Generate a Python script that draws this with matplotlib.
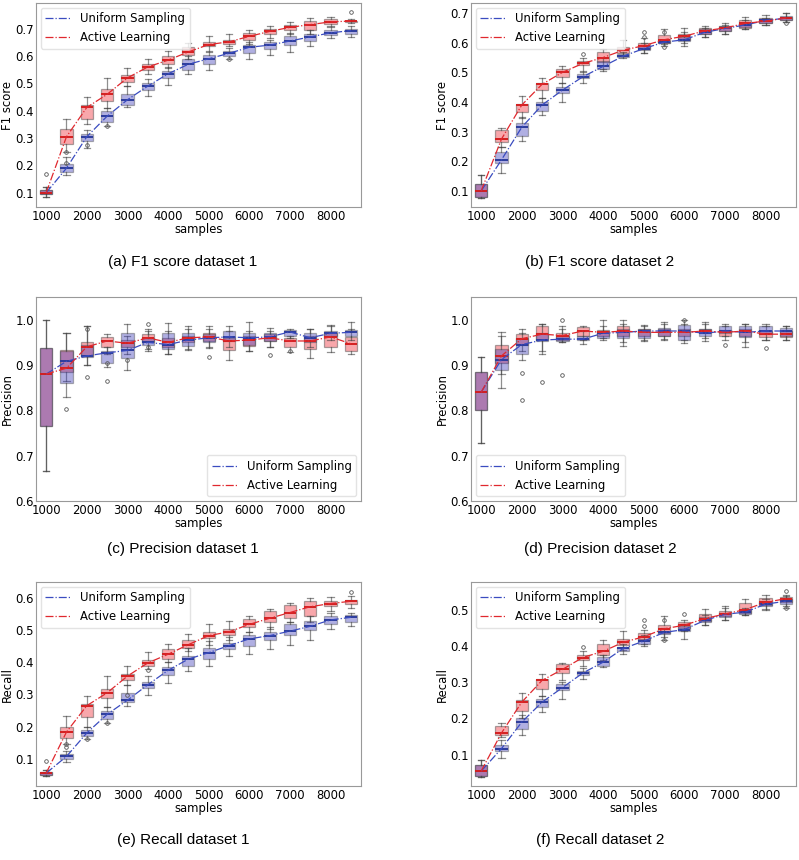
import numpy as np
import matplotlib
matplotlib.use("Agg")
import matplotlib.pyplot as plt

# sample sizes on the x axis
SAMPLES = [1000, 1500, 2000, 2500, 3000, 3500, 4000, 4500,
           5000, 5500, 6000, 6500, 7000, 7500, 8000, 8500]
XTICKS = [1000, 2000, 3000, 4000, 5000, 6000, 7000, 8000]

# box stats per sample size: [whisker low, q1, median, q3, whisker high]
F1_D1_UNIFORM = [
    [0.085, 0.095, 0.100, 0.110, 0.120], [0.165, 0.175, 0.190, 0.205, 0.230],
    [0.265, 0.290, 0.305, 0.315, 0.330], [0.345, 0.360, 0.380, 0.400, 0.410],
    [0.415, 0.420, 0.440, 0.460, 0.490], [0.455, 0.475, 0.490, 0.500, 0.515],
    [0.495, 0.520, 0.535, 0.545, 0.560], [0.535, 0.550, 0.570, 0.590, 0.600],
    [0.550, 0.570, 0.590, 0.605, 0.615], [0.590, 0.600, 0.610, 0.620, 0.630],
    [0.590, 0.610, 0.632, 0.640, 0.650], [0.605, 0.625, 0.640, 0.652, 0.660],
    [0.615, 0.640, 0.655, 0.675, 0.685], [0.635, 0.655, 0.670, 0.680, 0.695],
    [0.665, 0.678, 0.685, 0.695, 0.705], [0.670, 0.680, 0.693, 0.700, 0.710]]
F1_D1_ACTIVE = [
    [0.085, 0.095, 0.100, 0.110, 0.120], [0.250, 0.280, 0.305, 0.335, 0.370],
    [0.350, 0.370, 0.412, 0.420, 0.450], [0.410, 0.435, 0.460, 0.480, 0.520],
    [0.490, 0.505, 0.520, 0.530, 0.555], [0.535, 0.550, 0.560, 0.570, 0.590],
    [0.555, 0.570, 0.585, 0.600, 0.617], [0.590, 0.605, 0.615, 0.632, 0.648],
    [0.620, 0.635, 0.642, 0.650, 0.675], [0.635, 0.645, 0.652, 0.660, 0.680],
    [0.645, 0.660, 0.672, 0.685, 0.695], [0.665, 0.680, 0.690, 0.700, 0.710],
    [0.680, 0.695, 0.705, 0.715, 0.725], [0.680, 0.695, 0.715, 0.730, 0.740],
    [0.710, 0.718, 0.725, 0.735, 0.742], [0.720, 0.726, 0.728, 0.730, 0.735]]
F1_D1_UNIFORM_OUT = {1500: [0.25, 0.21], 2000: [0.275], 2500: [0.345], 5500: [0.59]}
F1_D1_ACTIVE_OUT = {1000: [0.17], 8500: [0.76]}

F1_D2_UNIFORM = [
    [0.075, 0.080, 0.100, 0.125, 0.155], [0.160, 0.195, 0.205, 0.230, 0.250],
    [0.270, 0.285, 0.315, 0.330, 0.350], [0.355, 0.370, 0.390, 0.400, 0.415],
    [0.400, 0.430, 0.440, 0.450, 0.465], [0.465, 0.480, 0.485, 0.495, 0.500],
    [0.505, 0.510, 0.520, 0.540, 0.550], [0.548, 0.552, 0.555, 0.562, 0.570],
    [0.565, 0.575, 0.580, 0.590, 0.600], [0.595, 0.600, 0.602, 0.605, 0.610],
    [0.590, 0.605, 0.610, 0.620, 0.635], [0.620, 0.630, 0.635, 0.645, 0.650],
    [0.630, 0.640, 0.648, 0.655, 0.660], [0.645, 0.652, 0.660, 0.668, 0.675],
    [0.660, 0.668, 0.675, 0.680, 0.685], [0.670, 0.677, 0.683, 0.690, 0.700]]
F1_D2_ACTIVE = [
    [0.075, 0.080, 0.100, 0.125, 0.155], [0.250, 0.265, 0.275, 0.305, 0.312],
    [0.345, 0.365, 0.390, 0.395, 0.420], [0.415, 0.440, 0.460, 0.465, 0.480],
    [0.465, 0.485, 0.500, 0.510, 0.520], [0.505, 0.525, 0.530, 0.540, 0.550],
    [0.510, 0.535, 0.550, 0.570, 0.580], [0.555, 0.565, 0.575, 0.585, 0.610],
    [0.565, 0.580, 0.590, 0.600, 0.615], [0.590, 0.600, 0.610, 0.625, 0.645],
    [0.600, 0.610, 0.622, 0.630, 0.650], [0.620, 0.630, 0.640, 0.648, 0.655],
    [0.630, 0.640, 0.650, 0.655, 0.665], [0.645, 0.650, 0.665, 0.675, 0.688],
    [0.660, 0.665, 0.673, 0.683, 0.695], [0.670, 0.677, 0.683, 0.688, 0.700]]
F1_D2_UNIFORM_OUT = {5500: [0.585], 8500: [0.665]}
F1_D2_ACTIVE_OUT = {3500: [0.562], 5000: [0.635, 0.62], 5500: [0.635]}

PREC_D1_UNIFORM = [
    [0.667, 0.765, 0.880, 0.937, 1.000], [0.830, 0.860, 0.908, 0.930, 0.970],
    [0.900, 0.918, 0.920, 0.945, 0.985], [0.895, 0.905, 0.927, 0.930, 0.940],
    [0.890, 0.915, 0.932, 0.970, 0.990], [0.930, 0.945, 0.950, 0.960, 0.975],
    [0.925, 0.935, 0.945, 0.970, 0.993], [0.932, 0.942, 0.955, 0.970, 0.985],
    [0.938, 0.950, 0.960, 0.968, 0.980], [0.940, 0.952, 0.962, 0.975, 0.987],
    [0.930, 0.945, 0.960, 0.970, 0.995], [0.940, 0.952, 0.962, 0.970, 0.982],
    [0.960, 0.965, 0.973, 0.978, 0.980], [0.940, 0.950, 0.960, 0.970, 0.980],
    [0.955, 0.965, 0.970, 0.975, 0.988], [0.955, 0.965, 0.972, 0.978, 0.995]]
PREC_D1_ACTIVE = [
    [0.667, 0.765, 0.880, 0.937, 1.000], [0.865, 0.885, 0.893, 0.932, 0.970],
    [0.900, 0.920, 0.940, 0.950, 0.985], [0.925, 0.940, 0.953, 0.962, 0.968],
    [0.925, 0.940, 0.948, 0.955, 0.965], [0.935, 0.950, 0.960, 0.968, 0.980],
    [0.925, 0.940, 0.950, 0.960, 0.975], [0.935, 0.950, 0.960, 0.965, 0.980],
    [0.940, 0.952, 0.962, 0.970, 0.985], [0.910, 0.933, 0.953, 0.960, 0.975],
    [0.930, 0.942, 0.955, 0.965, 0.975], [0.940, 0.952, 0.960, 0.968, 0.975],
    [0.928, 0.940, 0.953, 0.960, 0.965], [0.915, 0.935, 0.953, 0.965, 0.980],
    [0.928, 0.940, 0.962, 0.970, 0.985], [0.925, 0.930, 0.947, 0.962, 0.980]]
PREC_D1_UNIFORM_OUT = {1500: [0.803], 2000: [0.873, 0.98], 2500: [0.865, 0.905],
                       3000: [0.91], 3500: [0.99], 6500: [0.922], 7000: [0.93]}
PREC_D1_ACTIVE_OUT = {3500: [0.94], 5000: [0.917]}

PREC_D2_UNIFORM = [
    [0.727, 0.800, 0.840, 0.885, 0.918], [0.850, 0.888, 0.912, 0.935, 0.965],
    [0.910, 0.925, 0.945, 0.960, 0.970], [0.925, 0.952, 0.955, 0.970, 0.990],
    [0.950, 0.952, 0.957, 0.965, 0.980], [0.947, 0.955, 0.957, 0.965, 0.975],
    [0.955, 0.960, 0.970, 0.975, 1.000], [0.942, 0.960, 0.972, 0.980, 0.990],
    [0.952, 0.960, 0.975, 0.980, 0.988], [0.958, 0.965, 0.975, 0.982, 0.990],
    [0.948, 0.955, 0.975, 0.988, 1.000], [0.953, 0.963, 0.970, 0.980, 0.990],
    [0.965, 0.970, 0.975, 0.985, 0.990], [0.940, 0.962, 0.972, 0.985, 0.990],
    [0.955, 0.968, 0.975, 0.985, 0.990], [0.955, 0.965, 0.975, 0.982, 0.985]]
PREC_D2_ACTIVE = [
    [0.727, 0.800, 0.840, 0.885, 0.918], [0.880, 0.905, 0.920, 0.945, 0.972],
    [0.930, 0.945, 0.958, 0.968, 0.980], [0.930, 0.955, 0.968, 0.985, 0.990],
    [0.950, 0.955, 0.965, 0.970, 0.985], [0.955, 0.965, 0.975, 0.983, 0.985],
    [0.960, 0.965, 0.972, 0.978, 0.985], [0.950, 0.965, 0.975, 0.985, 1.000],
    [0.955, 0.965, 0.972, 0.980, 0.985], [0.955, 0.965, 0.972, 0.980, 0.995],
    [0.955, 0.965, 0.972, 0.980, 0.990], [0.960, 0.970, 0.975, 0.980, 0.995],
    [0.955, 0.965, 0.972, 0.978, 0.985], [0.950, 0.965, 0.975, 0.980, 0.990],
    [0.955, 0.962, 0.968, 0.975, 0.985], [0.955, 0.962, 0.968, 0.975, 0.985]]
PREC_D2_UNIFORM_OUT = {2000: [0.882, 0.822], 2500: [0.862], 3000: [0.877],
                       7000: [0.945], 8000: [0.937]}
PREC_D2_ACTIVE_OUT = {3000: [1.0], 6000: [1.0]}

REC_D1_UNIFORM = [
    [0.045, 0.050, 0.055, 0.060, 0.065], [0.090, 0.098, 0.107, 0.115, 0.125],
    [0.160, 0.172, 0.180, 0.190, 0.200], [0.210, 0.225, 0.238, 0.250, 0.262],
    [0.265, 0.275, 0.282, 0.305, 0.330], [0.297, 0.320, 0.330, 0.340, 0.357],
    [0.335, 0.360, 0.375, 0.385, 0.400], [0.372, 0.390, 0.410, 0.420, 0.445],
    [0.388, 0.410, 0.430, 0.445, 0.465], [0.420, 0.440, 0.452, 0.460, 0.480],
    [0.425, 0.452, 0.473, 0.485, 0.495], [0.440, 0.470, 0.483, 0.495, 0.510],
    [0.453, 0.485, 0.497, 0.520, 0.525], [0.470, 0.500, 0.512, 0.530, 0.545],
    [0.503, 0.518, 0.532, 0.545, 0.555], [0.513, 0.525, 0.540, 0.547, 0.555]]
REC_D1_ACTIVE = [
    [0.045, 0.050, 0.055, 0.060, 0.065], [0.145, 0.165, 0.183, 0.198, 0.232],
    [0.200, 0.230, 0.265, 0.270, 0.295], [0.260, 0.290, 0.305, 0.318, 0.357],
    [0.330, 0.345, 0.357, 0.365, 0.390], [0.380, 0.390, 0.398, 0.408, 0.432],
    [0.400, 0.410, 0.425, 0.440, 0.457], [0.435, 0.445, 0.455, 0.470, 0.487],
    [0.455, 0.475, 0.483, 0.495, 0.520], [0.470, 0.485, 0.495, 0.505, 0.530],
    [0.495, 0.510, 0.518, 0.535, 0.543], [0.505, 0.525, 0.537, 0.560, 0.567],
    [0.525, 0.538, 0.555, 0.578, 0.584], [0.525, 0.543, 0.573, 0.590, 0.600],
    [0.560, 0.575, 0.583, 0.592, 0.603], [0.570, 0.582, 0.590, 0.595, 0.607]]
REC_D1_UNIFORM_OUT = {1500: [0.145, 0.135], 2000: [0.16], 2500: [0.21], 3000: [0.298]}
REC_D1_ACTIVE_OUT = {1000: [0.093], 3500: [0.375], 8500: [0.62]}

REC_D2_UNIFORM = [
    [0.038, 0.042, 0.055, 0.072, 0.087], [0.090, 0.110, 0.117, 0.128, 0.140],
    [0.155, 0.170, 0.190, 0.200, 0.210], [0.218, 0.232, 0.245, 0.255, 0.262],
    [0.255, 0.278, 0.285, 0.295, 0.300], [0.310, 0.320, 0.325, 0.330, 0.338],
    [0.342, 0.345, 0.355, 0.370, 0.375], [0.377, 0.387, 0.393, 0.398, 0.405],
    [0.400, 0.405, 0.413, 0.420, 0.430], [0.415, 0.432, 0.437, 0.440, 0.450],
    [0.420, 0.440, 0.445, 0.455, 0.460], [0.458, 0.465, 0.470, 0.480, 0.485],
    [0.470, 0.480, 0.487, 0.490, 0.505], [0.485, 0.487, 0.493, 0.498, 0.505],
    [0.500, 0.510, 0.515, 0.520, 0.530], [0.503, 0.515, 0.523, 0.530, 0.538]]
REC_D2_ACTIVE = [
    [0.038, 0.042, 0.055, 0.072, 0.087], [0.150, 0.155, 0.160, 0.180, 0.187],
    [0.200, 0.220, 0.245, 0.250, 0.270], [0.262, 0.280, 0.305, 0.310, 0.323],
    [0.305, 0.325, 0.335, 0.350, 0.352], [0.345, 0.362, 0.368, 0.375, 0.387],
    [0.360, 0.375, 0.385, 0.405, 0.415], [0.390, 0.402, 0.410, 0.418, 0.442],
    [0.405, 0.415, 0.425, 0.435, 0.445], [0.425, 0.435, 0.447, 0.457, 0.483],
    [0.440, 0.450, 0.457, 0.465, 0.470], [0.458, 0.468, 0.475, 0.488, 0.502],
    [0.472, 0.482, 0.488, 0.495, 0.510], [0.485, 0.490, 0.500, 0.518, 0.528],
    [0.502, 0.512, 0.520, 0.532, 0.540], [0.510, 0.522, 0.530, 0.535, 0.540]]
REC_D2_UNIFORM_OUT = {5500: [0.415], 8500: [0.505]}
REC_D2_ACTIVE_OUT = {3500: [0.398], 5000: [0.455, 0.472], 5500: [0.472],
                     6000: [0.488], 8500: [0.55]}

PANELS = [
    ("F1 score", F1_D1_UNIFORM, F1_D1_ACTIVE, F1_D1_UNIFORM_OUT, F1_D1_ACTIVE_OUT,
     "(a) F1 score dataset 1", [0.1, 0.2, 0.3, 0.4, 0.5, 0.6, 0.7], (0.048, 0.794), "upper left"),
    ("F1 score", F1_D2_UNIFORM, F1_D2_ACTIVE, F1_D2_UNIFORM_OUT, F1_D2_ACTIVE_OUT,
     "(b) F1 score dataset 2", [0.1, 0.2, 0.3, 0.4, 0.5, 0.6, 0.7], (0.046, 0.734), "upper left"),
    ("Precision", PREC_D1_UNIFORM, PREC_D1_ACTIVE, PREC_D1_UNIFORM_OUT, PREC_D1_ACTIVE_OUT,
     "(c) Precision dataset 1", [0.6, 0.7, 0.8, 0.9, 1.0], (0.6, 1.05), "lower right"),
    ("Precision", PREC_D2_UNIFORM, PREC_D2_ACTIVE, PREC_D2_UNIFORM_OUT, PREC_D2_ACTIVE_OUT,
     "(d) Precision dataset 2", [0.6, 0.7, 0.8, 0.9, 1.0], (0.6, 1.05), "lower left"),
    ("Recall", REC_D1_UNIFORM, REC_D1_ACTIVE, REC_D1_UNIFORM_OUT, REC_D1_ACTIVE_OUT,
     "(e) Recall dataset 1", [0.1, 0.2, 0.3, 0.4, 0.5, 0.6], (0.015, 0.65), "upper left"),
    ("Recall", REC_D2_UNIFORM, REC_D2_ACTIVE, REC_D2_UNIFORM_OUT, REC_D2_ACTIVE_OUT,
     "(f) Recall dataset 2", [0.1, 0.2, 0.3, 0.4, 0.5], (0.014, 0.576), "upper left"),
]

BLUE_FILL = "#3a38b8"
RED_FILL = "#f03c46"
BLUE_LINE = "#3a4cc0"
RED_LINE = "#e0282e"
FS = 8.4


def make_stats(rows, outliers):
    stats = []
    for x, (lo, q1, med, q3, hi) in zip(SAMPLES, rows):
        stats.append(dict(whislo=lo, q1=q1, med=med, q3=q3, whishi=hi,
                          fliers=outliers.get(x, [])))
    return stats


def draw_boxes(ax, rows, outliers, fill, alpha, med_color, med_z):
    ax.bxp(make_stats(rows, outliers), positions=SAMPLES, widths=300,
           patch_artist=True, manage_ticks=False,
           boxprops=dict(facecolor=fill, edgecolor="#444444", alpha=alpha, linewidth=0.9),
           whiskerprops=dict(color="#444444", alpha=0.6, linewidth=0.9),
           capprops=dict(color="#444444", alpha=0.6, linewidth=0.9),
           medianprops=dict(color=med_color, linewidth=1.4, zorder=med_z),
           flierprops=dict(marker="o", markersize=2.6, markerfacecolor="none",
                           markeredgecolor="#555555", markeredgewidth=0.6))


fig = plt.figure(figsize=(7.99, 8.6), dpi=100)
W, H = 799, 860
lefts = [36, 471]
tops = [3, 297, 582]
caption_x = [183, 600]
caption_y = [262, 549, 840]

for i, (ylab, uni, act, uni_out, act_out, caption, yt, ylim, legloc) in enumerate(PANELS):
    r, c = divmod(i, 2)
    ax = fig.add_axes([lefts[c] / W, 1 - (tops[r] + 204) / H, 325 / W, 204 / H])
    draw_boxes(ax, act, act_out, RED_FILL, 0.45, "#d42020", 4.5)
    draw_boxes(ax, uni, uni_out, BLUE_FILL, 0.4, "#2c3c9c", 4)
    ax.plot(SAMPLES, [row[2] for row in uni], "-.", color=BLUE_LINE, lw=0.9,
            label="Uniform Sampling", zorder=5)
    ax.plot(SAMPLES, [row[2] for row in act], "-.", color=RED_LINE, lw=0.9,
            label="Active Learning", zorder=5)
    ax.set_xlim(750, 8750)
    ax.set_ylim(*ylim)
    ax.set_xticks(XTICKS)
    ax.set_xticklabels([str(v) for v in XTICKS])
    ax.set_yticks(yt)
    ax.set_yticklabels([f"{v:.1f}" for v in yt])
    ax.tick_params(axis="x", length=0, labelsize=FS, pad=2.5)
    ax.tick_params(axis="y", length=0, labelsize=FS, pad=1.5)
    ax.set_xlabel("samples", fontsize=FS, labelpad=0)
    ax.set_ylabel(ylab, fontsize=FS, labelpad=1)
    for sp in ax.spines.values():
        sp.set_color("#999999")
    ax.legend(loc=legloc, fontsize=FS, framealpha=0.8, edgecolor="#dddddd",
              handlelength=2.2, borderaxespad=0.4)
    fig.text(caption_x[c] / W, 1 - caption_y[r] / H, caption,
             ha="center", va="center", fontsize=11, family="Liberation Sans")

fig.savefig("out.png", dpi=100)
